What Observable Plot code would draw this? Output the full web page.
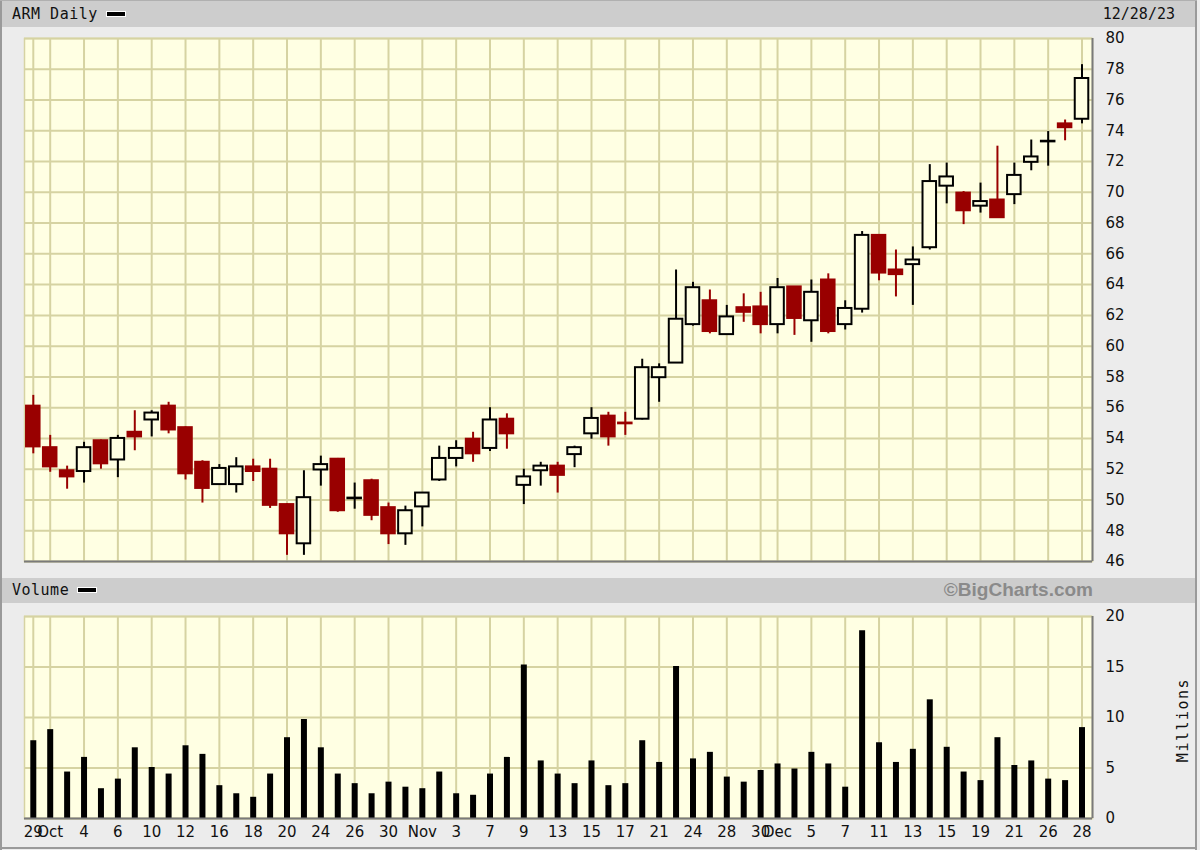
<!DOCTYPE html>
<html><head><meta charset="utf-8">
<script src="https://cdn.jsdelivr.net/npm/d3@7"></script>
<script src="https://cdn.jsdelivr.net/npm/@observablehq/plot@0.6"></script>
<style>
body{margin:0;background:#fff;}
#wrap{position:relative;width:1200px;height:850px;background:#ececec;overflow:hidden;}
.band{position:absolute;left:2px;width:1193px;background:#cdcdcd;}
.mono{position:absolute;font-family:"DejaVu Sans Mono",monospace;font-size:15px;color:#111;line-height:1;}
.leg{display:inline-block;width:18px;height:4px;background:#000;border:1px solid #fff;vertical-align:middle;margin-left:8px;position:relative;top:-1px;}
.bl{position:absolute;background:#9a9a9a;}
#price,#vol{position:absolute;left:0;}
</style></head>
<body>
<div id="wrap">
  <div class="band" style="top:1px;height:26px;"></div>
  <div class="mono" style="left:12px;top:7px;letter-spacing:0.5px;">ARM Daily<span class="leg"></span></div>
  <div class="mono" style="right:25px;top:7px;">12/28/23</div>
  <div id="price" style="top:28px;"></div>
  <div class="band" style="top:578px;height:25px;"></div>
  <div class="mono" style="left:12px;top:583px;letter-spacing:0.5px;">Volume<span class="leg"></span></div>
  <div style="position:absolute;right:107px;top:579px;font-family:'Liberation Sans',Arial,sans-serif;font-weight:bold;font-size:19px;color:#8a8a8a;">©BigCharts.com</div>
  <div id="vol" style="top:603px;"></div>
  <div class="mono" style="left:1183px;top:720px;transform:translate(-50%,-50%) rotate(-90deg);letter-spacing:1.5px;white-space:nowrap;">Millions</div>
  <div class="bl" style="left:0;top:0;width:2px;height:850px;"></div>
  <div class="bl" style="left:1195px;top:0;width:2px;height:850px;"></div>
  <div class="bl" style="left:0;top:847px;width:1197px;height:2px;"></div>
  <div class="bl" style="left:0;top:0;width:1197px;height:1px;background:#b0b0b0;"></div>
</div>
<script>
const dates = ["2023-09-29","2023-10-02","2023-10-03","2023-10-04","2023-10-05","2023-10-06","2023-10-09","2023-10-10","2023-10-11","2023-10-12","2023-10-13","2023-10-16","2023-10-17","2023-10-18","2023-10-19","2023-10-20","2023-10-23","2023-10-24","2023-10-25","2023-10-26","2023-10-27","2023-10-30","2023-10-31","2023-11-01","2023-11-02","2023-11-03","2023-11-06","2023-11-07","2023-11-08","2023-11-09","2023-11-10","2023-11-13","2023-11-14","2023-11-15","2023-11-16","2023-11-17","2023-11-20","2023-11-21","2023-11-22","2023-11-24","2023-11-27","2023-11-28","2023-11-29","2023-11-30","2023-12-01","2023-12-04","2023-12-05","2023-12-06","2023-12-07","2023-12-08","2023-12-11","2023-12-12","2023-12-13","2023-12-14","2023-12-15","2023-12-18","2023-12-19","2023-12-20","2023-12-21","2023-12-22","2023-12-26","2023-12-27","2023-12-28"];
const open  = [56.1,53.4,51.9,51.85,53.85,52.6,54.4,55.2,56.1,54.7,52.45,51.0,51.0,52.15,52.0,49.7,47.15,51.95,52.65,50.08,51.25,49.5,47.8,49.55,51.3,52.7,53.95,53.35,55.25,50.95,51.9,52.2,52.95,54.3,55.45,55.0,55.25,57.95,58.9,61.4,62.95,60.75,62.5,62.55,61.4,63.85,61.65,64.3,61.4,62.4,67.2,64.95,65.3,66.4,70.4,69.95,69.1,69.5,69.85,71.95,73.28,74.45,74.75];
const high  = [56.8,54.2,52.2,53.75,53.9,54.2,55.8,55.8,56.35,54.75,52.55,52.3,52.75,52.65,52.65,49.75,51.9,52.85,52.7,51.1,51.35,49.8,49.6,50.45,53.5,53.85,54.4,56.0,55.6,52.0,52.45,52.45,53.5,56.0,55.7,55.7,59.15,58.85,64.95,64.15,63.65,62.65,63.4,63.5,64.4,63.85,64.3,64.7,62.95,67.45,67.2,66.25,66.45,71.8,71.9,70.05,70.6,73.0,71.9,73.4,73.95,74.7,78.3];
const low   = [53.0,51.8,50.7,51.1,52.0,51.45,53.2,54.1,54.3,51.3,49.8,50.95,50.45,51.2,49.45,46.4,46.4,50.9,49.2,49.4,48.65,47.1,47.05,48.25,51.2,52.15,52.45,53.15,53.3,49.7,50.9,50.45,52.1,53.95,53.5,54.2,55.2,56.35,58.9,61.3,60.8,60.75,61.55,60.8,60.8,60.7,60.25,60.8,61.05,62.15,64.25,63.2,62.65,66.25,69.25,67.9,68.65,68.35,69.2,71.4,71.7,73.35,74.45];
const close = [53.45,52.15,51.5,53.4,52.35,54.0,54.1,55.65,54.55,51.7,50.75,52.05,52.15,51.85,49.65,47.8,50.15,52.3,49.3,50.12,49.0,47.8,49.3,50.45,52.7,53.35,53.0,55.2,54.3,51.5,52.2,51.6,53.4,55.3,54.1,54.95,58.6,58.6,61.75,63.8,60.95,61.9,62.2,61.4,63.8,61.8,63.5,60.95,62.45,67.2,64.75,64.65,65.6,70.7,71.0,68.8,69.4,68.35,71.1,72.3,73.32,74.2,77.4];
const volume = [7.7,8.8,4.6,6.05,2.95,3.9,7.0,5.05,4.4,7.2,6.35,3.25,2.45,2.1,4.4,8.0,9.8,7.0,4.4,3.45,2.45,3.6,3.1,2.95,4.6,2.45,2.3,4.4,6.05,15.2,5.7,4.4,3.45,5.7,3.25,3.45,7.7,5.55,15.05,5.9,6.55,4.1,3.6,4.75,5.4,4.9,6.55,5.4,3.1,18.6,7.5,5.55,6.85,11.75,7.05,4.6,3.75,8.0,5.25,5.7,3.9,3.75,9.0];
const tickDates  = ["2023-09-29","2023-10-02","2023-10-04","2023-10-06","2023-10-10","2023-10-12","2023-10-16","2023-10-18","2023-10-20","2023-10-24","2023-10-26","2023-10-30","2023-11-01","2023-11-03","2023-11-07","2023-11-09","2023-11-13","2023-11-15","2023-11-17","2023-11-21","2023-11-24","2023-11-28","2023-11-30","2023-12-01","2023-12-05","2023-12-07","2023-12-11","2023-12-13","2023-12-15","2023-12-19","2023-12-21","2023-12-26","2023-12-28"];
const tickLabels = ["29","Oct","4","6","10","12","16","18","20","24","26","30","Nov","3","7","9","13","15","17","21","24","28","30","Dec","5","7","11","13","15","19","21","26","28"];
const priceTicks = [46,48,50,52,54,56,58,60,62,64,66,68,70,72,74,76,78,80];
const volTicks = [0,5,10,15,20];

const data = dates.map((d, i) => ({i, date: d, open: open[i], high: high[i], low: low[i], close: close[i], volume: volume[i], up: close[i] >= open[i]}));
const tickIdx = tickDates.map(d => dates.indexOf(d));
const labelOf = new Map(tickIdx.map((t, k) => [t, tickLabels[k]]));

const BG = "#ffffe3", GRID = "#d6d3a2", RED = "#990000", EDGE = "#7a7a7a";
const xDomain = [-0.52, dates.length - 0.38];
const W = 1200, ML = 24, MR = 108;
const font = "DejaVu Sans, Verdana, sans-serif";

const price = Plot.plot({
  width: W, height: 547,
  marginLeft: ML, marginRight: MR, marginTop: 10, marginBottom: 14,
  style: {background: "transparent", fontFamily: font, fontSize: "15px", color: "#111", overflow: "visible"},
  x: {domain: xDomain, axis: null},
  y: {domain: [priceTicks[0], priceTicks[priceTicks.length - 1]], axis: null},
  marks: [
    Plot.frame({fill: BG, stroke: null}),
    Plot.ruleX(tickIdx, {stroke: GRID, strokeWidth: 2}),
    Plot.ruleY(priceTicks, {stroke: GRID, strokeWidth: 2}),
    Plot.frame({stroke: GRID, strokeWidth: 1.5}),
    Plot.ruleY([priceTicks[0]], {stroke: EDGE, strokeWidth: 2}),
    Plot.ruleX([xDomain[1]], {stroke: EDGE, strokeWidth: 2}),
    Plot.axisY(priceTicks, {anchor: "right", tickSize: 0, tickPadding: 13, fontSize: 15, label: null, textAnchor: "start"}),
    Plot.ruleX(data, {x: "i", y1: "low", y2: "high", stroke: d => d.up ? "#000" : RED, strokeWidth: 2}),
    Plot.rect(data, {x1: d => d.i - 0.4, x2: d => d.i + 0.4, y1: "open", y2: "close",
      fill: d => d.up ? BG : RED, stroke: d => d.up ? "#000" : RED, strokeWidth: 2})
  ]
});
document.getElementById("price").append(price);

const vol = Plot.plot({
  width: W, height: 247,
  marginLeft: ML, marginRight: MR, marginTop: 13, marginBottom: 32,
  style: {background: "transparent", fontFamily: font, fontSize: "15px", color: "#111", overflow: "visible"},
  x: {domain: xDomain, axis: null},
  y: {domain: [volTicks[0], volTicks[volTicks.length - 1]], axis: null},
  marks: [
    Plot.frame({fill: BG, stroke: null}),
    Plot.ruleX(tickIdx, {stroke: GRID, strokeWidth: 2}),
    Plot.ruleY(volTicks, {stroke: GRID, strokeWidth: 2}),
    Plot.frame({stroke: GRID, strokeWidth: 1.5}),
    Plot.ruleX(data, {x: "i", y: "volume", stroke: "#000", strokeWidth: 6}),
    Plot.ruleY([volTicks[0]], {stroke: EDGE, strokeWidth: 2}),
    Plot.ruleX([xDomain[1]], {stroke: EDGE, strokeWidth: 2}),
    Plot.axisY(volTicks, {anchor: "right", tickSize: 0, tickPadding: 13, fontSize: 15, label: null, textAnchor: "start"}),
    Plot.axisX(tickIdx, {anchor: "bottom", tickSize: 0, tickPadding: 8, fontSize: 15, label: null, tickFormat: d => labelOf.get(d)})
  ]
});
document.getElementById("vol").append(vol);
</script>
</body></html>
